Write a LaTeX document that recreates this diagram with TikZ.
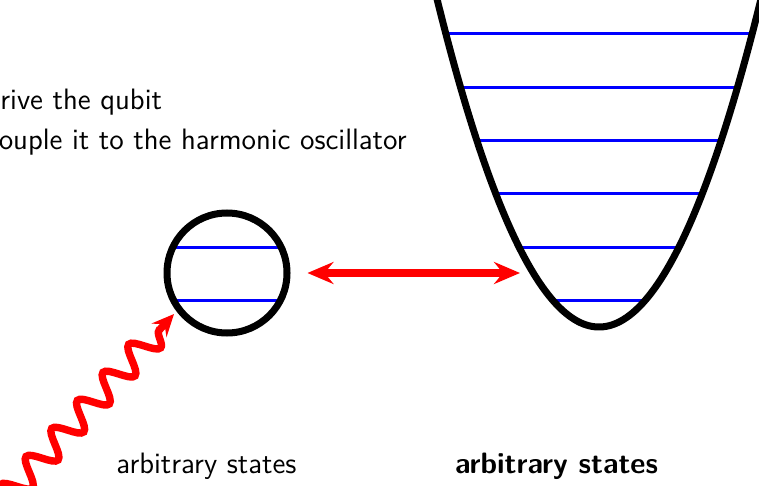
\documentclass[tikz,border=0pt]{standalone}
\usetikzlibrary{decorations.pathmorphing,arrows.meta}
\begin{document}
\begin{tikzpicture}[x=0.5pt,y=-0.5pt,
  every node/.style={font=\sffamily\fontsize{14.75}{17}\selectfont, inner sep=0pt},
  level/.style={blue, line width=1.5pt},
  thick black/.style={black, line width=3.5pt},
  redarrow/.style={red, line width=4pt, {Stealth[length=13pt,width=11pt,inset=4.5pt]}-{Stealth[length=13pt,width=11pt,inset=4.5pt]}},
  wavy/.style={red, line width=3.7pt, -{Stealth[length=11pt,width=10pt,inset=4pt]},
    decorate, decoration={snake, segment length=19pt, amplitude=6.5pt, post length=10pt}}]
\clip (0,0) rectangle (759,486);
\useasboundingbox (0,0) rectangle (759,486);

% qubit circle levels
\draw[level] (173,247) -- (281,247);
\draw[level] (173,300) -- (281,300);
\node[circle, thick black, draw, minimum size=60pt] (qubit) at (227,273) {};

% harmonic oscillator levels
\foreach \yy in {34,88,141,194,247,300} {
  \pgfmathsetmacro{\hw}{8.944*sqrt(327-\yy)}
  \draw[level] ({599-\hw},\yy) -- ({599+\hw},\yy);
}
\draw[thick black] plot[domain=-1.72:1.72, samples=120] ({599+100*\x},{327-125*\x*\x});

% coupling arrow
\coordinate (wellwall) at (520,273);
\draw[redarrow] (qubit.east) ++(8.5pt,0) coordinate (qright) (qright) -- (wellwall);

% drive
\coordinate (drivesrc) at (2,502);
\coordinate (drivetip) at (174,314);
\draw[wavy] (drivesrc) -- (drivetip);

% texts
\node[anchor=base west] (t1) at (0,110) {rive the qubit};
\node[anchor=base east] (t2) at (407,150) {ouple it to the harmonic oscillator};
\node[anchor=base] (s1) at (206.5,473) {arbitrary states};
\node[anchor=base, font=\sffamily\bfseries\fontsize{14.75}{17}\selectfont] (s2) at (556.5,473) {arbitrary states};
\end{tikzpicture}
\end{document}
